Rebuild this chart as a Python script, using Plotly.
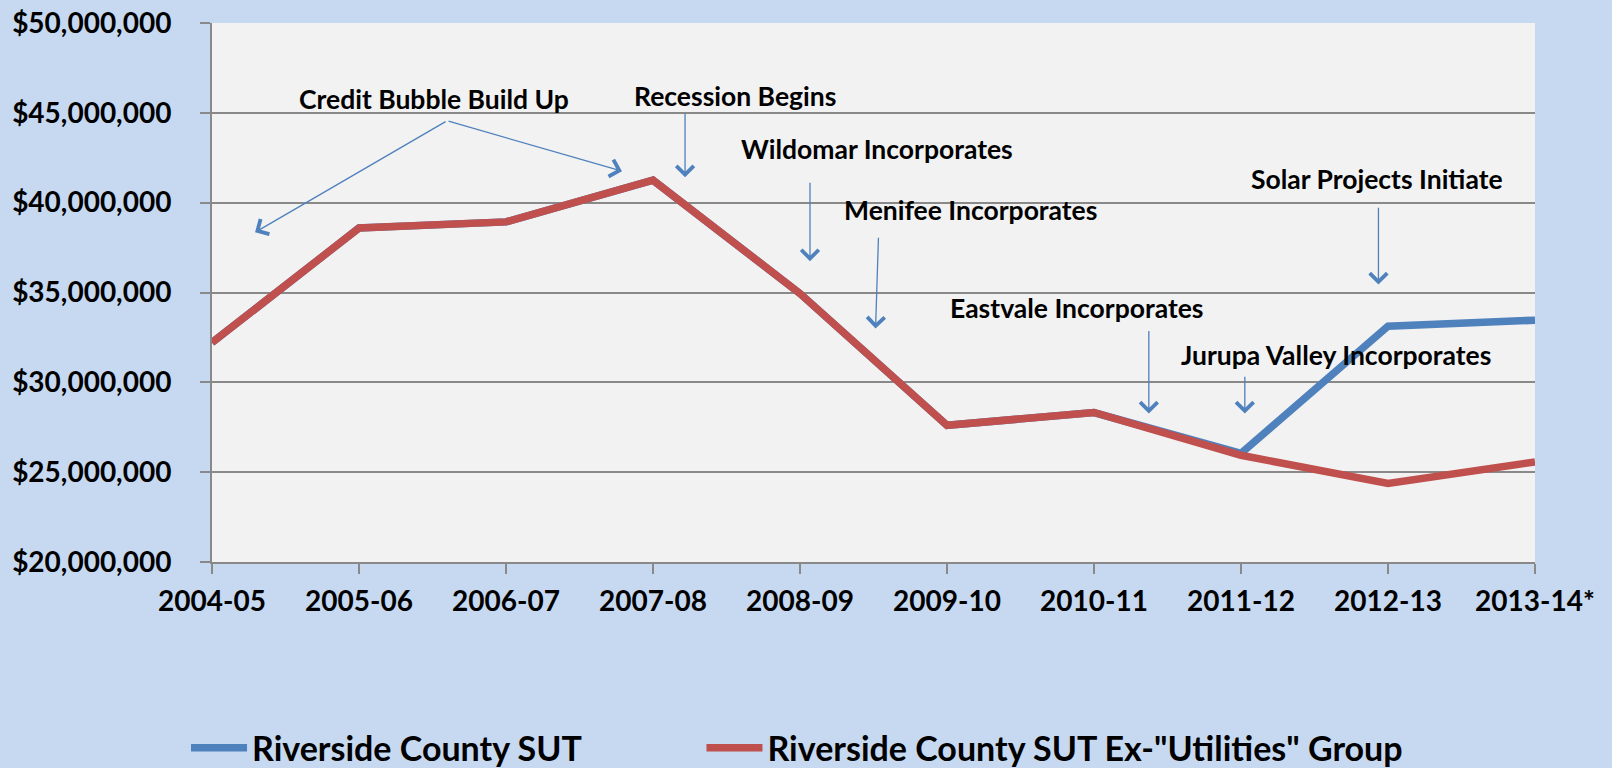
import plotly.graph_objects as go

years = ["2004-05", "2005-06", "2006-07", "2007-08", "2008-09",
         "2009-10", "2010-11", "2011-12", "2012-13", "2013-14*"]
sut_total = [32.21e6, 38.59e6, 38.93e6, 41.25e6, 34.94e6,
             27.61e6, 28.32e6, 26.05e6, 33.12e6, 33.46e6]
sut_ex_util = [32.21e6, 38.59e6, 38.93e6, 41.25e6, 34.94e6,
               27.61e6, 28.32e6, 25.94e6, 24.37e6, 25.57e6]

# event labels: (text, x index, y value)
event_labels = [
    ("Credit Bubble Build Up", 1.51, 45.77e6),
    ("Recession Begins", 3.557, 45.94e6),
    ("Wildomar Incorporates", 4.524, 42.97e6),
    ("Menifee Incorporates", 5.163, 39.59e6),
    ("Eastvale Incorporates", 5.878, 34.12e6),
    ("Jurupa Valley Incorporates", 7.646, 31.52e6),
    ("Solar Projects Initiate", 7.925, 41.31e6),
]
# event arrows: (tail x, tail y, head x, head y)
event_arrows = [
    (1.599, 44.56e6, 0.293, 38.35e6),
    (1.599, 44.56e6, 2.789, 41.75e6),
    (3.218, 45.03e6, 3.218, 41.41e6),
    (4.068, 41.19e6, 4.068, 36.74e6),
    (4.534, 38.13e6, 4.514, 32.99e6),
    (6.373, 32.94e6, 6.373, 28.26e6),
    (7.026, 30.40e6, 7.026, 28.26e6),
    (7.935, 39.80e6, 7.935, 35.44e6),
]

xi = list(range(len(years)))
FONT = "Lato"
BLUE = "#4F81BD"
RED = "#C0504D"
GRID = "#898989"
PAD = "\u00a0" * 14  # spacing between the two legend entries

fig = go.Figure()
fig.add_trace(go.Scatter(x=xi, y=sut_total, mode="lines", name="Riverside County SUT" + PAD,
                         line=dict(color=BLUE, width=7.5)))
fig.add_trace(go.Scatter(x=xi, y=sut_ex_util, mode="lines",
                         name='Riverside County SUT Ex-"Utilities" Group',
                         line=dict(color=RED, width=7.5)))

annotations = []
for text, x, y in event_labels:
    annotations.append(dict(x=x, y=y, xref="x", yref="y", text=text, showarrow=False,
                            font=dict(family=FONT, size=26.5, color="black", weight="bold"),
                            xanchor="center", yanchor="middle"))
for tx, ty, hx, hy in event_arrows:
    annotations.append(dict(x=hx, y=hy, ax=tx, ay=ty, xref="x", yref="y",
                            axref="x", ayref="y", text="", showarrow=True,
                            arrowhead=4, arrowsize=2.6, arrowwidth=1.3,
                            arrowcolor=BLUE, standoff=0, startstandoff=0))

fig.update_layout(
    width=1612, height=768,
    margin=dict(l=212, r=77, t=23, b=206, autoexpand=False),
    paper_bgcolor="#C6D9F1",
    plot_bgcolor="#F2F2F2",
    font=dict(family=FONT, color="black", weight="bold"),
    showlegend=True,
    legend=dict(orientation="h", xref="container", yref="container",
                x=0.1154, y=0.026, xanchor="left", yanchor="middle",
                itemwidth=56,
                font=dict(family=FONT, size=34, color="black", weight="bold"),
                bgcolor="rgba(0,0,0,0)", traceorder="normal"),
    annotations=annotations,
)
fig.update_xaxes(range=[0, 9], tickmode="array", tickvals=xi, ticktext=years,
                 showgrid=False, zeroline=False, showline=True, linecolor=GRID, linewidth=2,
                 ticks="outside", ticklen=10, tickwidth=2, tickcolor=GRID,
                 tickfont=dict(family=FONT, size=28, color="black", weight="bold"),
                 ticklabelstandoff=3, automargin=False)
fig.update_yaxes(range=[20e6, 50e6], dtick=5e6, tick0=20e6, tickprefix="$", tickformat=",.0f",
                 showgrid=True, gridcolor=GRID, gridwidth=2, zeroline=False,
                 showline=True, linecolor=GRID, linewidth=2,
                 ticks="outside", ticklen=10, tickwidth=2, tickcolor=GRID,
                 tickfont=dict(family=FONT, size=28, color="black", weight="bold"),
                 ticklabelstandoff=23, automargin=False)

fig.write_html("out.html", config={"displayModeBar": False},
               post_script="document.body.style.margin='0px';document.body.style.overflow='hidden';")
